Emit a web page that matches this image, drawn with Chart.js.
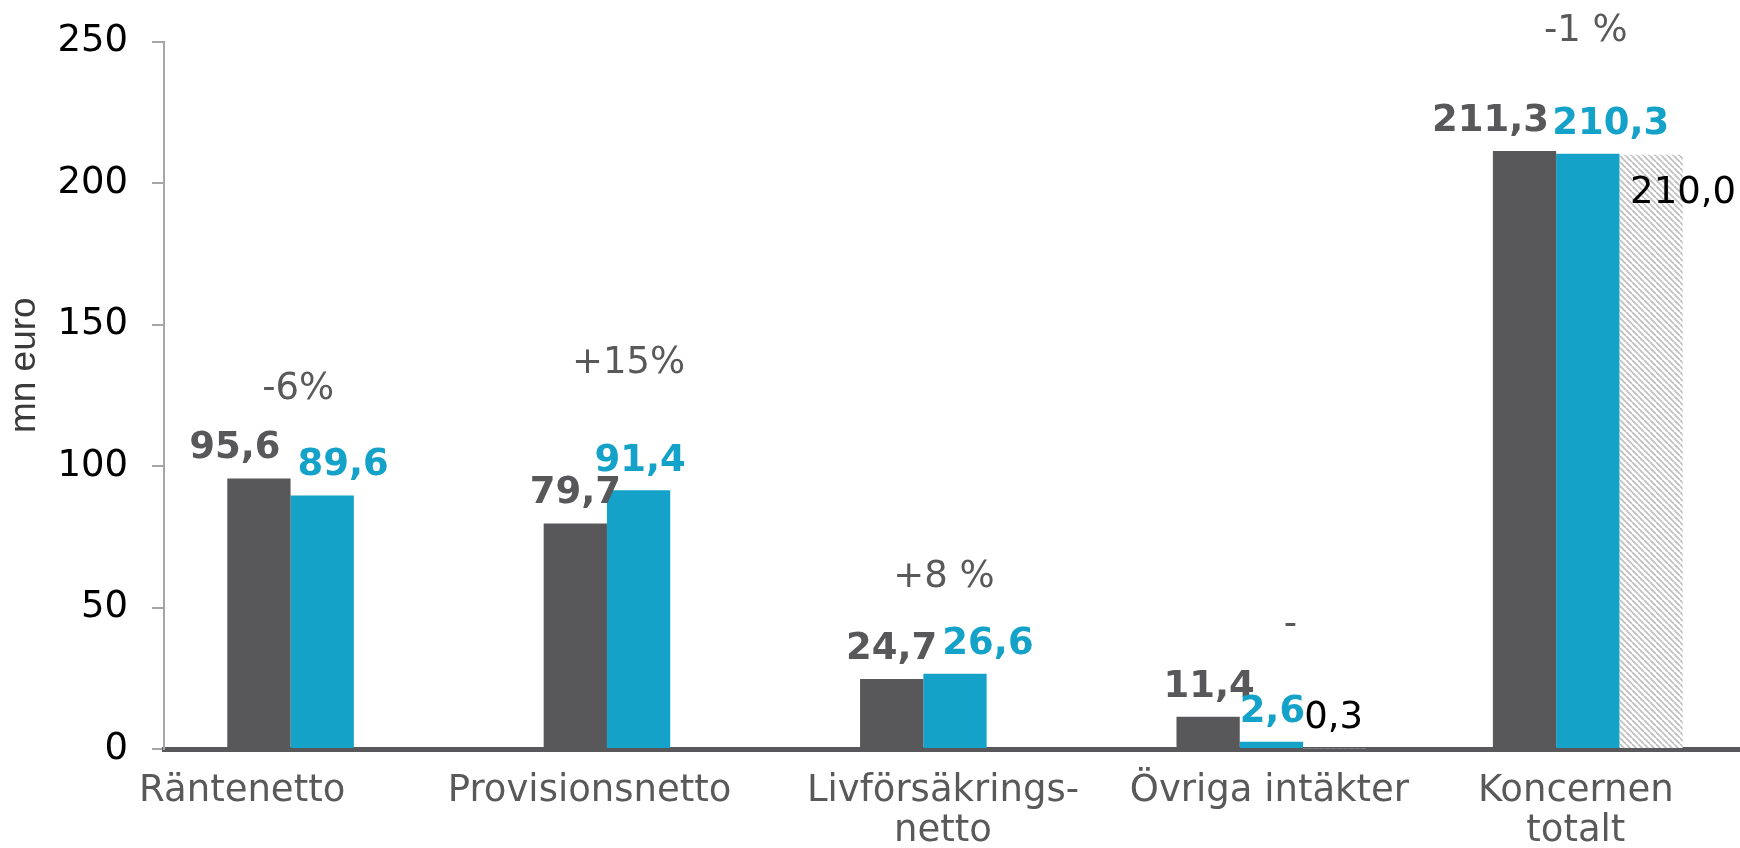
<!DOCTYPE html>
<html>
<head>
<meta charset="utf-8">
<script src="https://cdn.jsdelivr.net/npm/chart.js@4/dist/chart.umd.min.js"></script>
<style>
  html, body { margin: 0; padding: 0; background: #fff; overflow: hidden; }
  #wrap { width: 1740px; height: 848px; position: relative; overflow: hidden; }
</style>
</head>
<body>
<div id="wrap"><canvas id="c" width="1746" height="848"></canvas></div>
<script>
// ---- data ----
const categories = [['Räntenetto'], ['Provisionsnetto'], ['Livförsäkrings-', 'netto'], ['Övriga intäkter'], ['Koncernen', 'totalt']];
const seriesNames = ['Föregående år', 'Innevarande år', 'Justerat'];
const previousYear = [95.6, 79.7, 24.7, 11.4, 211.3];
const currentYear = [89.6, 91.4, 26.6, 2.6, 210.3];
const adjusted = [null, null, null, 0.3, 210.0];
const changeLabels = ['-6%', '+15%', '+8 %', '-', '-1 %'];
const yTickValues = [0, 50, 100, 150, 200, 250];
const yAxisTitle = 'mn euro';

// ---- styling ----
const DARK = '#58585a';
const BLUE = '#15a2c8';
const TEXT_GRAY = '#595959';
const FONT = "'DejaVu Sans', Verdana, sans-serif";

function makeHatch() {
  const s = 6;
  const c = document.createElement('canvas');
  c.width = s; c.height = s;
  const g = c.getContext('2d');
  g.fillStyle = '#ffffff';
  g.fillRect(0, 0, s, s);
  g.strokeStyle = '#c0c0c0';
  g.lineWidth = 1.8;
  g.beginPath();
  for (const o of [-s, 0, s]) { g.moveTo(o, 0); g.lineTo(o + s, s); }
  g.stroke();
  return g.createPattern(c, 'repeat');
}

const fmt = v => v.toFixed(1).replace('.', ',');

const labelsPlugin = {
  id: 'customLabels',
  afterDraw(chart, args, opts) {
    const ctx = chart.ctx;
    const x = chart.scales.x, y = chart.scales.y;
    ctx.save();
    // value labels
    opts.values.forEach((cfg, di) => {
      const meta = chart.getDatasetMeta(di);
      const data = chart.data.datasets[di].data;
      ctx.font = cfg.font;
      ctx.fillStyle = cfg.color;
      ctx.textAlign = 'center';
      ctx.textBaseline = 'alphabetic';
      meta.data.forEach((bar, i) => {
        const v = data[i];
        if (v === null || v === undefined) return;
        ctx.fillText(fmt(v), bar.x + cfg.dx[i], bar.y + cfg.dy[i]);
      });
    });
    // change labels
    ctx.font = '37px ' + FONT;
    ctx.fillStyle = TEXT_GRAY;
    ctx.textAlign = 'center';
    ctx.textBaseline = 'alphabetic';
    changeLabels.forEach((t, i) => {
      ctx.fillText(t, x.getPixelForValue(i) + opts.change.dx[i], y.getPixelForValue(opts.change.at[i]));
    });
    // category labels
    ctx.fillStyle = TEXT_GRAY;
    categories.forEach((lines, i) => {
      lines.forEach((ln, k) => {
        ctx.fillText(ln, x.getPixelForValue(i) + opts.cats.dx[i], chart.chartArea.bottom + 52 + k * 40);
      });
    });
    // y axis title
    ctx.save();
    ctx.font = "37px 'Liberation Sans', Arial, sans-serif";
    ctx.fillStyle = '#3a3a3a';
    ctx.translate(35, (chart.chartArea.top + chart.chartArea.bottom) / 2 - 30);
    ctx.rotate(-Math.PI / 2);
    ctx.textAlign = 'center';
    ctx.fillText(yAxisTitle, 0, 0);
    ctx.restore();
    ctx.restore();
  }
};

const hatch = makeHatch();

new Chart(document.getElementById('c'), {
  type: 'bar',
  data: {
    labels: categories,
    datasets: [
      { label: seriesNames[0], data: previousYear, backgroundColor: DARK },
      { label: seriesNames[1], data: currentYear, backgroundColor: BLUE },
      { label: seriesNames[2], data: adjusted, backgroundColor: hatch }
    ]
  },
  options: {
    responsive: false,
    animation: false,
    devicePixelRatio: 1,
    layout: { padding: { left: 0, right: 0, top: 41.5, bottom: 0 } },
    datasets: { bar: { categoryPercentage: 0.6, barPercentage: 1.0, borderWidth: 0 } },
    plugins: {
      legend: { display: false },
      tooltip: { enabled: false },
      customLabels: {
        values: [
          { font: 'bold 37px ' + FONT, color: DARK, dx: [-24, 0, 0, 1, -34], dy: [-20, -20, -20, -20, -20] },
          { font: 'bold 37px ' + FONT, color: BLUE, dx: [21, 1.5, 33, 1, 23], dy: [-20, -19, -20, -20, -20] },
          { font: '37px ' + FONT, color: '#000000', dx: [-1, 0, 0, -1, 32], dy: [-20, -20, -20, -20, 48] }
        ],
        change: { dx: [-24, -10, -11, 19, -2], at: [123.8, 132.8, 57.2, 40.3, 250.1] },
        cats: { dx: [-80, -49, -12, -2, -12] }
      }
    },
    scales: {
      x: {
        z: 1,
        grid: { display: false, drawTicks: false },
        ticks: { display: false },
        border: { display: true, color: '#58585a', width: 5 },
        afterFit(scale) { scale.height = 99; scale.paddingLeft = 0; scale.paddingRight = 0; }
      },
      y: {
        min: 0,
        max: 250,
        afterBuildTicks(scale) { scale.ticks = yTickValues.map(v => ({ value: v })); },
        grid: { display: true, drawOnChartArea: false, drawTicks: true, tickLength: 12, color: '#a6a6a6', lineWidth: 2 },
        border: { display: true, color: '#a6a6a6', width: 2 },
        ticks: { color: '#000000', padding: 24, font: { family: FONT, size: 37 } },
        afterFit(scale) { scale.width = 164; scale.paddingTop = 0; scale.paddingBottom = 0; }
      }
    }
  },
  plugins: [labelsPlugin]
});
</script>
</body>
</html>
